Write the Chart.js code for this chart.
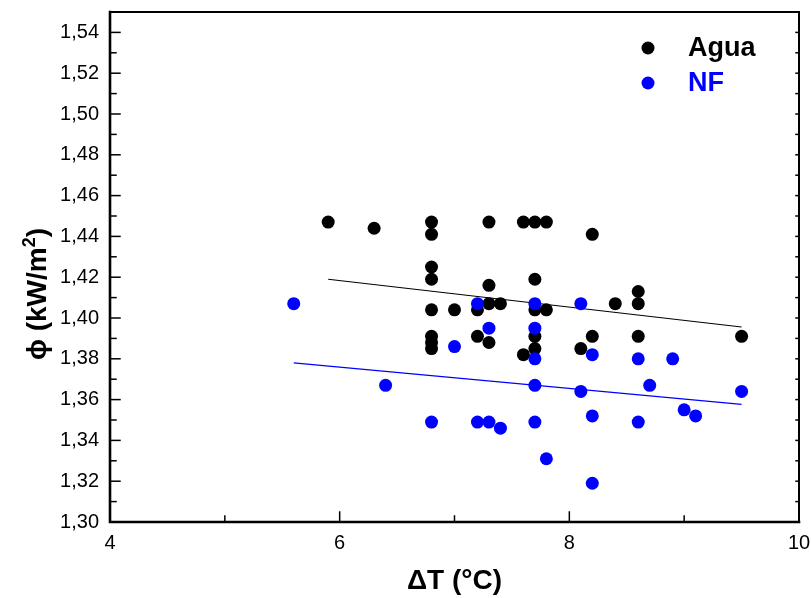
<!DOCTYPE html>
<html lang="es">
  <head>
    <meta charset="UTF-8" />
    <title>Flujo de calor vs ΔT</title>
    <script src="https://cdn.jsdelivr.net/npm/chart.js@4.4.1/dist/chart.umd.min.js"></script>
    <style>
      body { margin: 0; background: #fff; }
      #wrap { width: 811px; height: 598px; }
    </style>
  </head>
  <body>
    <div id="wrap">
      <canvas id="myChart" width="811" height="598"></canvas>
    </div>
    <script>
      // Agua (negro)
      const aguaDT = [
        5.9, 6.3,
        6.8, 6.8, 6.8, 6.8, 6.8, 6.8, 6.8, 6.8,
        7.0, 7.2, 7.2,
        7.3, 7.3, 7.3, 7.3, 7.4,
        7.6, 7.6,
        7.7, 7.7, 7.7, 7.7, 7.7,
        7.8, 7.8,
        8.1, 8.2, 8.2, 8.4,
        8.6, 8.6, 8.6, 9.5,
      ];
      const aguaPhi = [
        1.447, 1.444,
        1.447, 1.441, 1.425, 1.419, 1.404, 1.391, 1.388, 1.385,
        1.404, 1.404, 1.391,
        1.447, 1.416, 1.407, 1.388, 1.407,
        1.447, 1.382,
        1.447, 1.419, 1.404, 1.391, 1.385,
        1.447, 1.404,
        1.385, 1.441, 1.391, 1.407,
        1.413, 1.407, 1.391, 1.391,
      ];

      // NF (azul)
      const nfDT = [
        5.6, 6.4, 6.8, 7.0, 7.2, 7.2, 7.3, 7.3, 7.4,
        7.7, 7.7, 7.7, 7.7, 7.7, 7.8,
        8.1, 8.1, 8.2, 8.2, 8.2,
        8.6, 8.6, 8.7, 8.9, 9.0, 9.1, 9.5,
      ];
      const nfPhi = [
        1.407, 1.367, 1.349, 1.386, 1.407, 1.349, 1.395, 1.349, 1.346,
        1.407, 1.395, 1.380, 1.367, 1.349, 1.331,
        1.407, 1.364, 1.382, 1.352, 1.319,
        1.380, 1.349, 1.367, 1.380, 1.355, 1.352, 1.364,
      ];

      // rectas de ajuste (extremos)
      const aguaFitDT = [5.9, 9.5];
      const aguaFitPhi = [1.419, 1.3956];
      const nfFitDT = [5.6, 9.5];
      const nfFitPhi = [1.378, 1.3577];

      const xTicks = [4, 6, 8, 10];
      const yTicks = [1.30, 1.32, 1.34, 1.36, 1.38, 1.40, 1.42, 1.44, 1.46, 1.48, 1.50, 1.52, 1.54];

      const negro = "#000000";
      const azul = "#0000ff";
      const fam = "'Liberation Sans', Arial, sans-serif";

      function toPoints(xs, ys) {
        return xs.map(function (x, i) {
          return { x: x, y: ys[i] };
        });
      }

      Chart.defaults.font.family = fam;
      Chart.defaults.color = "#000";

      // marco, ticks interiores, titulo eje y y leyenda
      const framePlugin = {
        id: "frame",
        afterDraw: function (chart) {
          const ctx = chart.ctx;
          const a = chart.chartArea;
          const xs = chart.scales.x;
          const ys = chart.scales.y;
          ctx.save();
          ctx.strokeStyle = "#000";
          ctx.lineCap = "square";

          // ticks eje x
          ctx.lineWidth = 1.5;
          for (let v = xs.min; v <= xs.max; v += 1) {
            const px = xs.getPixelForValue(v);
            const len = xTicks.indexOf(v) >= 0 ? 10 : 6;
            ctx.beginPath();
            ctx.moveTo(px, a.bottom);
            ctx.lineTo(px, a.bottom - len);
            ctx.stroke();
          }
          // ticks eje y (izq. y der.)
          for (let i = 0; i <= 25; i++) {
            const v = ys.min + i * 0.01;
            const py = ys.getPixelForValue(v);
            const len = i % 2 === 0 ? 10 : 6;
            ctx.beginPath();
            ctx.moveTo(a.left, py);
            ctx.lineTo(a.left + len, py);
            ctx.stroke();
            ctx.beginPath();
            ctx.moveTo(a.right, py);
            ctx.lineTo(a.right - 3, py);
            ctx.stroke();
          }

          // marco
          ctx.lineWidth = 2;
          ctx.beginPath();
          ctx.moveTo(a.left, a.top);
          ctx.lineTo(a.right, a.top);
          ctx.lineTo(a.right, a.bottom);
          ctx.stroke();
          ctx.lineWidth = 2.6;
          ctx.beginPath();
          ctx.moveTo(a.left, a.top);
          ctx.lineTo(a.left, a.bottom);
          ctx.lineTo(a.right, a.bottom);
          ctx.stroke();

          // titulo eje y con superindice
          ctx.save();
          ctx.fillStyle = "#000";
          ctx.translate(a.left - 64, (a.top + a.bottom) / 2 + 27);
          ctx.rotate(-Math.PI / 2);
          ctx.textBaseline = "alphabetic";
          ctx.textAlign = "left";
          const big = "bold 28px " + fam;
          const small = "bold 18px " + fam;
          ctx.font = big;
          const w1 = ctx.measureText("ϕ (kW/m").width;
          const w3 = ctx.measureText(")").width;
          ctx.font = small;
          const w2 = ctx.measureText("2").width;
          let x0 = -(w1 + w2 + w3) / 2;
          ctx.font = big;
          ctx.fillText("ϕ (kW/m", x0, 0);
          ctx.font = small;
          ctx.fillText("2", x0 + w1, -11);
          ctx.font = big;
          ctx.fillText(")", x0 + w1 + w2, 0);
          ctx.restore();

          // leyenda
          const items = [chart.data.datasets[0], chart.data.datasets[1]];
          ctx.font = "bold 27px " + fam;
          ctx.textBaseline = "middle";
          ctx.textAlign = "left";
          items.forEach(function (ds, i) {
            const cy = a.top + 36 + i * 35;
            ctx.fillStyle = ds.backgroundColor;
            ctx.beginPath();
            ctx.arc(a.right - 151, cy, 6.5, 0, Math.PI * 2);
            ctx.fill();
            ctx.fillText(ds.label, a.right - 111, cy + 1);
          });
          ctx.restore();
        },
      };

      function noEdgePadding(s) {
        s.paddingTop = 0;
        s.paddingBottom = 0;
        s.paddingLeft = 0;
        s.paddingRight = 0;
      }

      const ctx = document.getElementById("myChart");
      const myChart = new Chart(ctx, {
        type: "scatter",
        data: {
          datasets: [
            {
              label: "Agua",
              data: toPoints(aguaDT, aguaPhi),
              backgroundColor: negro,
              borderWidth: 0,
              pointRadius: 6.5,
              order: 2,
            },
            {
              label: "NF",
              data: toPoints(nfDT, nfPhi),
              backgroundColor: azul,
              borderWidth: 0,
              pointRadius: 6.5,
              order: 1,
            },
            {
              label: "ajuste Agua",
              type: "line",
              data: toPoints(aguaFitDT, aguaFitPhi),
              borderColor: negro,
              borderWidth: 1.2,
              pointRadius: 0,
              fill: false,
              order: 3,
            },
            {
              label: "ajuste NF",
              type: "line",
              data: toPoints(nfFitDT, nfFitPhi),
              borderColor: azul,
              borderWidth: 1.2,
              pointRadius: 0,
              fill: false,
              order: 3,
            },
          ],
        },
        options: {
          responsive: false,
          animation: false,
          events: [],
          devicePixelRatio: 1,
          layout: { padding: { left: 0, top: 12, right: 12, bottom: 0 } },
          plugins: {
            legend: { display: false },
            tooltip: { enabled: false },
          },
          scales: {
            x: {
              type: "linear",
              position: "bottom",
              min: 4,
              max: 10,
              grid: { display: false, drawTicks: false },
              border: { display: false },
              afterBuildTicks: function (s) {
                s.ticks = xTicks.map(function (v) { return { value: v }; });
              },
              afterFit: function (s) {
                s.height = 76;
                noEdgePadding(s);
              },
              ticks: {
                padding: 9,
                color: "#000",
                font: { size: 20 },
                callback: function (v) { return String(v); },
              },
              title: {
                display: true,
                text: "ΔT (°C)",
                color: "#000",
                font: { size: 28, weight: "bold" },
                padding: 0,
              },
            },
            y: {
              type: "linear",
              min: 1.30,
              max: 1.55,
              grid: { display: false, drawTicks: false },
              border: { display: false },
              afterBuildTicks: function (s) {
                s.ticks = yTicks.map(function (v) { return { value: v }; });
              },
              afterFit: function (s) {
                s.width = 110;
                noEdgePadding(s);
              },
              ticks: {
                padding: 11,
                color: "#000",
                font: { size: 20 },
                callback: function (v) { return v.toFixed(2).replace(".", ","); },
              },
              title: { display: false },
            },
          },
        },
        plugins: [framePlugin],
      });
    </script>
  </body>
</html>
